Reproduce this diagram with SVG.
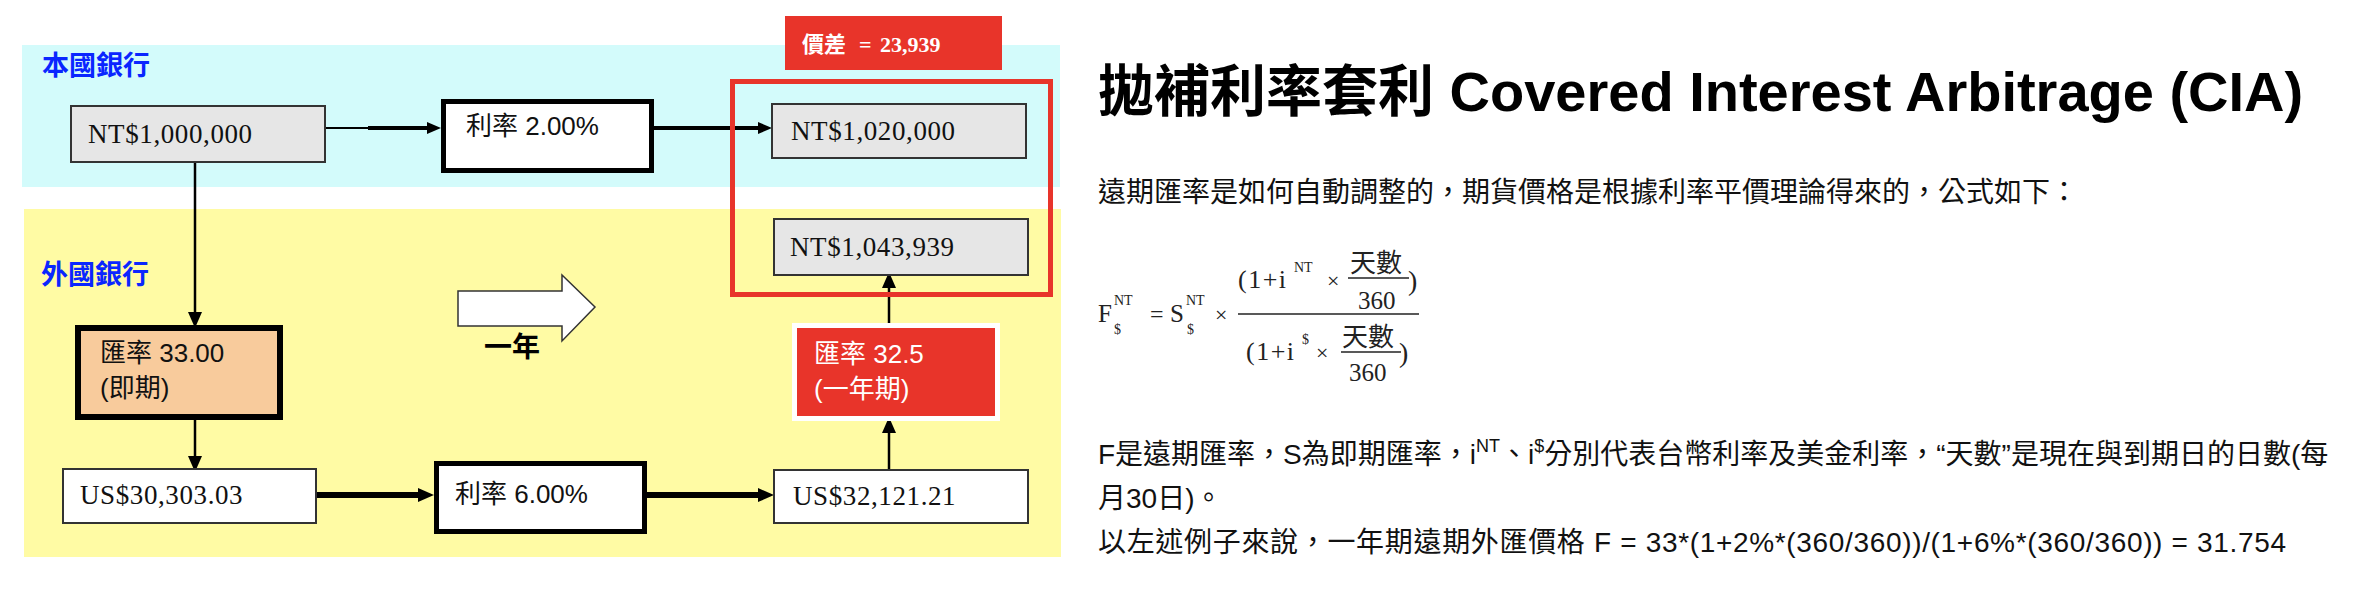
<svg xmlns="http://www.w3.org/2000/svg" width="2378" height="590" viewBox="0 0 2378 590">
<style>
.bg{fill:#fff}
.cyan{fill:#d3fbfb}
.yellow{fill:#fffba4}
.gray{fill:#e6e6e6;stroke:#333;stroke-width:2}
.white{fill:#fff;stroke:#333;stroke-width:2}
.thick{fill:#fff;stroke:#000;stroke-width:5}
.peach{fill:#f8cb9c;stroke:#000;stroke-width:6}
.redfill{fill:#e8342a}
.val{font-family:"Liberation Serif","Noto Sans CJK TC",serif;font-size:27px;fill:#111;letter-spacing:0.6px}
.lbl{font-family:"Liberation Sans","Noto Sans CJK TC",sans-serif;font-size:26px;fill:#111}
.wlbl{font-family:"Liberation Sans","Noto Sans CJK TC",sans-serif;font-size:26px;fill:#fff}
.band{font-family:"Noto Sans CJK TC",sans-serif;font-weight:bold;font-size:27px;fill:#0a26ff}
.conn{stroke:#000;fill:none}
.title{font-family:"Liberation Sans","Noto Sans CJK TC",sans-serif;font-weight:bold;font-size:56px;fill:#000}
.body{font-family:"Liberation Sans","Noto Sans CJK TC",sans-serif;font-size:28px;fill:#111}
.sup{font-size:18px}
.fm{font-family:"Liberation Serif","Noto Sans CJK TC",serif;fill:#222}
.fcjk{font-family:"Noto Sans CJK TC",sans-serif;fill:#222;font-size:26px}
.bar{stroke:#222;stroke-width:1.5}
</style>
<defs>
<marker id="arr" viewBox="0 0 14 12" markerWidth="14" markerHeight="12" refX="0" refY="6" orient="auto" markerUnits="userSpaceOnUse">
<path d="M0,0 L14,6 L0,12 Z" fill="#000"/>
</marker>
<marker id="arrB" viewBox="0 0 16 14" markerWidth="16" markerHeight="14" refX="0" refY="7" orient="auto" markerUnits="userSpaceOnUse">
<path d="M0,0 L16,7 L0,14 Z" fill="#000"/>
</marker>
</defs>
<rect class="bg" x="0" y="0" width="2378" height="590"/>

<g id="band-home">
<rect class="cyan" x="22" y="45" width="1038" height="142"/>
<text class="band" x="42" y="75">本國銀行</text>
</g>
<g id="band-foreign">
<rect class="yellow" x="24" y="209" width="1037" height="348"/>
<text class="band" x="41" y="284">外國銀行</text>
</g>

<g id="connectors">
<line class="conn" x1="325" y1="128" x2="372" y2="128" stroke-width="2"/>
<line class="conn" x1="368" y1="128" x2="427" y2="128" stroke-width="4" marker-end="url(#arr)"/>
<line class="conn" x1="654" y1="128" x2="758" y2="128" stroke-width="4" marker-end="url(#arr)"/>
<line class="conn" x1="195" y1="162" x2="195" y2="312" stroke-width="2.5" marker-end="url(#arrB)"/>
<line class="conn" x1="195" y1="420" x2="195" y2="456" stroke-width="2.5" marker-end="url(#arrB)"/>
<line class="conn" x1="316" y1="495" x2="418" y2="495" stroke-width="6" marker-end="url(#arrB)"/>
<line class="conn" x1="647" y1="495" x2="758" y2="495" stroke-width="6" marker-end="url(#arrB)"/>
<line class="conn" x1="889" y1="470" x2="889" y2="433" stroke-width="2.5" marker-end="url(#arrB)"/>
<line class="conn" x1="889" y1="325" x2="889" y2="288" stroke-width="2.5" marker-end="url(#arrB)"/>
</g>

<g id="diff-frame">
<rect x="732.5" y="81.5" width="318" height="213" fill="none" stroke="#e8342a" stroke-width="5"/>
</g>

<g id="diff-label">
<rect class="redfill" x="785" y="16" width="217" height="54"/>
<text font-family="Liberation Serif,'Noto Sans CJK TC',serif" font-weight="bold" font-size="22" fill="#fff" y="52"><tspan x="802">價差</tspan><tspan x="859">=</tspan><tspan x="880">23,939</tspan></text>
</g>

<g id="nt-1000000">
<rect class="gray" x="71" y="106" width="254" height="56"/>
<text class="val" x="88" y="143">NT$1,000,000</text>
</g>

<g id="rate-nt">
<rect class="thick" x="443.5" y="101.5" width="208" height="69"/>
<text class="lbl" x="466" y="135">利率 2.00%</text>
</g>

<g id="nt-1020000">
<rect class="gray" x="772" y="104" width="254" height="54"/>
<text class="val" x="791" y="140">NT$1,020,000</text>
</g>

<g id="nt-1043939">
<rect class="gray" x="774" y="219" width="254" height="56"/>
<text class="val" x="790" y="256">NT$1,043,939</text>
</g>

<g id="spot-rate">
<rect class="peach" x="78" y="328" width="202" height="89"/>
<text class="lbl" x="100" y="362">匯率 33.00</text>
<text class="lbl" x="100" y="397">(即期)</text>
</g>

<g id="year-arrow">
<path d="M458,291 H562 V275 L595,307 L562,341 V326 H458 Z" fill="#fff" stroke="#333" stroke-width="1.5"/>
<text font-family="'Noto Sans CJK TC',sans-serif" font-weight="bold" font-size="28" fill="#000" x="484" y="357">一年</text>
</g>

<g id="forward-rate">
<rect x="794.5" y="325.5" width="203" height="93" fill="#e8342a" stroke="#fff" stroke-width="5"/>
<text class="wlbl" x="814" y="363">匯率 32.5</text>
<text class="wlbl" x="814" y="398">(一年期)</text>
</g>

<g id="us-30303">
<rect class="white" x="63" y="469" width="253" height="54"/>
<text class="val" x="80" y="504">US$30,303.03</text>
</g>

<g id="rate-us">
<rect class="thick" x="436.5" y="463.5" width="208" height="68"/>
<text class="lbl" x="455" y="503">利率 6.00%</text>
</g>

<g id="us-32121">
<rect class="white" x="774" y="470" width="254" height="53"/>
<text class="val" x="793" y="505">US$32,121.21</text>
</g>

<g id="title">
<text class="title" x="1098" y="111">拋補利率套利 Covered Interest Arbitrage (CIA)</text>
</g>

<g id="intro">
<text class="body" x="1098" y="202">遠期匯率是如何自動調整的，期貨價格是根據利率平價理論得來的，公式如下：</text>
</g>

<g id="formula">
<text class="fm" font-size="25" x="1098" y="322">F</text>
<text class="fm" font-size="14" x="1114" y="305">NT</text>
<text class="fm" font-size="14" x="1114" y="334">$</text>
<text class="fm" font-size="24" x="1150" y="322">=</text>
<text class="fm" font-size="25" x="1170" y="322">S</text>
<text class="fm" font-size="14" x="1186" y="305">NT</text>
<text class="fm" font-size="14" x="1187" y="334">$</text>
<text class="fm" font-size="22" x="1215" y="322">×</text>
<line class="bar" x1="1238" y1="314" x2="1419" y2="314"/>
<text class="fm" font-size="26" letter-spacing="1.5" x="1238" y="288">(1+i</text>
<text class="fm" font-size="14" x="1294" y="272">NT</text>
<text class="fm" font-size="22" x="1327" y="288">×</text>
<text class="fcjk" x="1350" y="272">天數</text>
<line class="bar" x1="1348" y1="278" x2="1409" y2="278"/>
<text class="fm" font-size="25" x="1358" y="309">360</text>
<text class="fm" font-size="28" x="1408" y="290">)</text>
<text class="fm" font-size="26" letter-spacing="1.5" x="1246" y="360">(1+i</text>
<text class="fm" font-size="14" x="1302" y="344">$</text>
<text class="fm" font-size="22" x="1316" y="360">×</text>
<text class="fcjk" x="1342" y="346">天數</text>
<line class="bar" x1="1341" y1="352" x2="1401" y2="352"/>
<text class="fm" font-size="25" x="1349" y="381">360</text>
<text class="fm" font-size="28" x="1399" y="362">)</text>
</g>

<g id="explain">
<text class="body" x="1098" y="464">F是遠期匯率，S為即期匯率，i<tspan class="sup" dy="-12">NT</tspan><tspan dy="12">、i</tspan><tspan class="sup" dy="-12">$</tspan><tspan dy="12">分別代表台幣利率及美金利率，“天數”是現在與到期日的日數(每</tspan></text>
<text class="body" x="1098" y="508">月30日)。</text>
<text class="body" x="1098" y="552" textLength="1188" lengthAdjust="spacing">以左述例子來說，一年期遠期外匯價格 F = 33*(1+2%*(360/360))/(1+6%*(360/360)) = 31.754</text>
</g>
</svg>
